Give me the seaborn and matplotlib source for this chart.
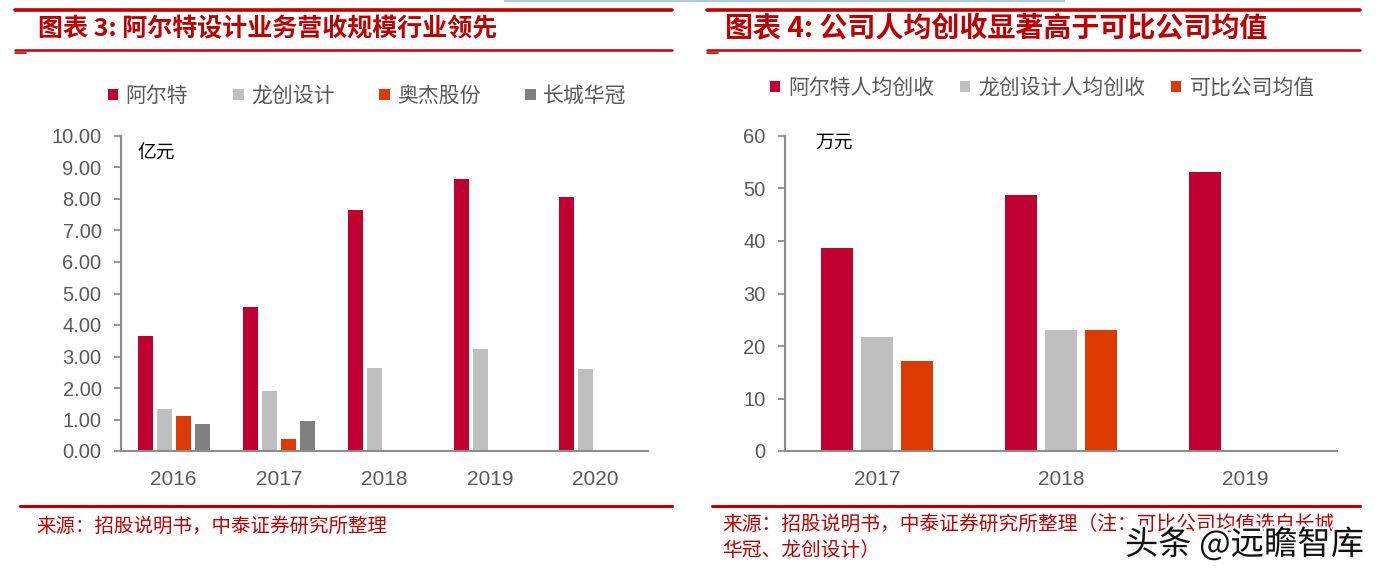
import numpy as np
import pandas as pd
import matplotlib

matplotlib.use("Agg")
import matplotlib.pyplot as plt
import matplotlib.patheffects as pe
from matplotlib.lines import Line2D
from matplotlib.patches import Rectangle
import seaborn as sns

# --- dati -------------------------------------------------------------------
anni_sx = ["2016", "2017", "2018", "2019", "2020"]
aerte = [3.64, 4.57, 7.65, 8.62, 8.05]
longchuang = [1.32, 1.89, 2.63, 3.24, 2.60]
aojie = [1.12, 0.37, np.nan, np.nan, np.nan]
changcheng = [0.87, 0.96, np.nan, np.nan, np.nan]
serie_sx = ["阿尔特", "龙创设计", "奥杰股份", "长城华冠"]

anni_dx = ["2017", "2018", "2019"]
aerte_pc = [38.6, 48.8, 53.2]
longchuang_pc = [21.8, 23.05, np.nan]
media_pc = [17.1, 23.05, np.nan]
serie_dx = ["阿尔特人均创收", "龙创设计人均创收", "可比公司均值"]

ROSSO, GRIGIO, ARANCIO, SCURO = "#BF0030", "#BFBFBF", "#DC3A00", "#808080"
TITOLO = "#C00000"
TESTO = "#595959"
ASSE = "#8C8C8C"

sns.set_theme(style="white")
plt.rcParams["font.family"] = ["Liberation Sans", "Noto Sans CJK SC", "DejaVu Sans"]

W, H = 1400, 578


def fx(x):
    return x / W


def fy(y):
    return 1 - y / H


def lungo(anni, valori, nomi):
    df = pd.DataFrame({n: v for n, v in zip(nomi, valori)}, index=anni)
    df.index.name = "anno"
    out = df.reset_index().melt(id_vars="anno", var_name="serie", value_name="valore")
    return out.dropna()


def stile_assi(ax, n, yticks, fmt, ylim):
    ax.set_ylim(*ylim)
    ax.set_xlim(-0.5, n - 0.5)
    ax.set_yticks(yticks)
    ax.set_yticklabels([fmt.format(v) for v in yticks])
    ax.set_xticks(range(n))
    ax.set_xticks(np.arange(-0.5, n), minor=True)
    ax.tick_params(axis="x", which="major", length=0, pad=14, labelsize=15, labelcolor=TESTO)
    ax.tick_params(axis="x", which="minor", length=6, width=1.3, color=ASSE, direction="out")
    ax.tick_params(axis="y", length=5, width=1.3, color=ASSE, direction="out", pad=9,
                   labelsize=14.5, labelcolor=TESTO, left=True)
    ax.set_xlabel("")
    ax.set_ylabel("")
    for s in ["top", "right"]:
        ax.spines[s].set_visible(False)
    for s in ["left", "bottom"]:
        ax.spines[s].set_color(ASSE)
        ax.spines[s].set_linewidth(1.5)
    ax.set_facecolor("white")


fig = plt.figure(figsize=(W / 100, H / 100), dpi=100)

# --- pannello sinistro -----------------------------------------------------
ax1 = fig.add_axes([fx(121), fy(451), fx(648 - 121), (451 - 136) / H])
d1 = lungo(anni_sx, [aerte, longchuang, aojie, changcheng], serie_sx)
sns.barplot(data=d1, x="anno", y="valore", hue="serie", order=anni_sx, hue_order=serie_sx,
            palette=[ROSSO, GRIGIO, ARANCIO, SCURO], saturation=1, width=0.724, gap=0.21,
            errorbar=None, linewidth=0, ax=ax1)
stile_assi(ax1, len(anni_sx), np.arange(0, 10.01, 1), "{:.2f}", (0, 10))
h, l = ax1.get_legend_handles_labels()
ax1.get_legend().remove()
fig.legend(h, l, ncol=4, loc="center left", bbox_to_anchor=(fx(108), fy(96)),
           bbox_transform=fig.transFigure, frameon=False, fontsize=15,
           handlelength=0.5, handleheight=0.5, handletextpad=0.35, columnspacing=2.15,
           borderpad=0, borderaxespad=0, labelcolor=TESTO)
fig.text(fx(137), fy(153), "亿元", fontsize=13.5, color="black", va="center",
         family=["Noto Sans CJK SC"])

# --- pannello destro -------------------------------------------------------
ax2 = fig.add_axes([fx(785), fy(451), fx(1337 - 785), (451 - 136) / H])
d2 = lungo(anni_dx, [aerte_pc, longchuang_pc, media_pc], serie_dx)
sns.barplot(data=d2, x="anno", y="valore", hue="serie", order=anni_dx, hue_order=serie_dx,
            palette=[ROSSO, GRIGIO, ARANCIO], saturation=1, width=0.652, gap=0.2,
            errorbar=None, linewidth=0, ax=ax2)
stile_assi(ax2, len(anni_dx), np.arange(0, 61, 10), "{:.0f}", (0, 60))
h, l = ax2.get_legend_handles_labels()
ax2.get_legend().remove()
fig.legend(h, l, ncol=3, loc="center left", bbox_to_anchor=(fx(770), fy(88)),
           bbox_transform=fig.transFigure, frameon=False, fontsize=15,
           handlelength=0.5, handleheight=0.5, handletextpad=0.4, columnspacing=1.2,
           borderpad=0, borderaxespad=0, labelcolor=TESTO)
fig.text(fx(815), fy(142), "万元", fontsize=13.5, color="black", va="center",
         family=["Noto Sans CJK SC"])

# --- cornici, titoli, fonti -------------------------------------------------
fig.add_artist(Rectangle((fx(504), fy(2)), fx(1065 - 504), 2 / H, transform=fig.transFigure,
                         color="#A9CBE3", lw=0))
for x0, x1 in [(15, 672), (707, 1360)]:
    fig.add_artist(Line2D([fx(x0), fx(x1)], [fy(9.5)] * 2, color=TITOLO, lw=2.6))
    fig.add_artist(Line2D([fx(x0), fx(x1)], [fy(50)] * 2, color=TITOLO, lw=1.8))
    fig.add_artist(Line2D([fx(x0), fx(x0 + 11)], [fy(53)] * 2, color=TITOLO, lw=1.2))
    fig.add_artist(Line2D([fx(x0 + 5), fx(x1)], [fy(506)] * 2, color=TITOLO, lw=2.2))

fig.text(fx(38), fy(29), "图表 3: 阿尔特设计业务营收规模行业领先", fontsize=18,
         weight="bold", color=TITOLO, va="center", family=["Noto Sans CJK SC"])
fig.text(fx(725), fy(29), "图表 4: 公司人均创收显著高于可比公司均值", fontsize=20.2,
         weight="bold", color=TITOLO, va="center", family=["Noto Sans CJK SC"])

fig.text(fx(36), fy(526), "来源：招股说明书，中泰证券研究所整理", fontsize=14,
         color=TITOLO, va="center", family=["Noto Sans CJK SC"])
fig.text(fx(722), fy(525), "来源：招股说明书，中泰证券研究所整理（注：可比公司均值选自长城",
         fontsize=14.2, color=TITOLO, va="center", family=["Noto Sans CJK SC"])
fig.text(fx(722), fy(551), "华冠、龙创设计）", fontsize=14.2, color=TITOLO, va="center",
         family=["Noto Sans CJK SC"])

# filigrana sovrapposta alla nota, come nell'originale
fig.text(fx(1125), fy(545), "头条 @远瞻智库", fontsize=24, color="#111111", va="center",
         family=["Noto Sans CJK SC", "DejaVu Sans"],
         path_effects=[pe.withStroke(linewidth=4, foreground="white")])

fig.savefig("out.png", dpi=100, facecolor="white")
